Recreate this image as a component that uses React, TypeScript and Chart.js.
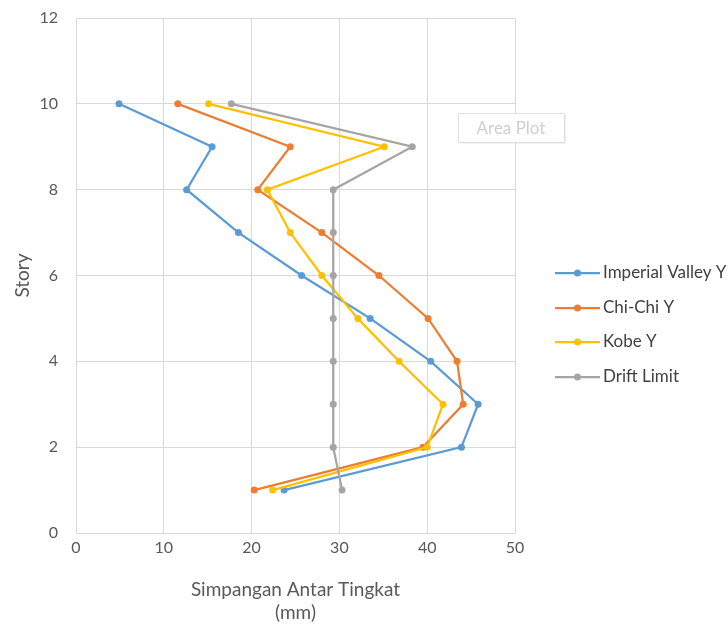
import React, { useEffect, useRef } from "react";
import { Chart, registerables } from "chart.js";

Chart.register(...registerables);

const stories = [10, 9, 8, 7, 6, 5, 4, 3, 2, 1];
const imperialValley = [4.9, 15.5, 12.6, 18.5, 25.7, 33.5, 40.4, 45.8, 43.9, 23.7];
const chiChi = [11.6, 24.4, 20.7, 28.0, 34.5, 40.1, 43.4, 44.1, 39.5, 20.3];
const kobe = [15.1, 35.1, 21.8, 24.4, 28.0, 32.1, 36.8, 41.8, 40.0, 22.4];
const driftLimit = [17.7, 38.3, 29.3, 29.3, 29.3, 29.3, 29.3, 29.3, 29.3, 30.3];

const seriesNames = ["Imperial Valley Y", "Chi-Chi Y", "Kobe Y", "Drift Limit"];
const seriesValues = [imperialValley, chiChi, kobe, driftLimit];
const seriesColors = ["#5B9BD5", "#ED7D31", "#FFC000", "#A5A5A5"];

const xTitle = ["Simpangan Antar Tingkat", "(mm)"];
const yTitle = "Story";
const tooltipText = "Area Plot";

const FONT = "Lato, 'Noto Sans', sans-serif";

export default function App() {
  const ref = useRef<HTMLCanvasElement | null>(null);

  useEffect(() => {
    if (!ref.current) return;

    const legendPlugin = {
      id: "customLegend",
      afterDraw(chart: any) {
        const ctx = chart.ctx;
        ctx.save();
        const x0 = 555;
        const rowY = [273, 308, 342, 377];
        seriesNames.forEach((name, i) => {
          const y = rowY[i];
          ctx.strokeStyle = seriesColors[i];
          ctx.lineWidth = 2.25;
          ctx.beginPath();
          ctx.moveTo(x0, y);
          ctx.lineTo(x0 + 45, y);
          ctx.stroke();
          ctx.fillStyle = seriesColors[i];
          ctx.beginPath();
          ctx.arc(x0 + 22.5, y, 3.5, 0, Math.PI * 2);
          ctx.fill();
          ctx.fillStyle = "#404040";
          ctx.font = "17px " + FONT;
          ctx.textAlign = "left";
          ctx.textBaseline = "middle";
          ctx.fillText(name, x0 + 48, y);
        });
        // faint "Area Plot" hover label
        const bx = 458, by = 113, bw = 106, bh = 29;
        ctx.fillStyle = "rgba(0,0,0,0.05)";
        ctx.fillRect(bx + 2, by + 2, bw, bh);
        ctx.fillStyle = "#ffffff";
        ctx.fillRect(bx, by, bw, bh);
        ctx.strokeStyle = "#E0E0E0";
        ctx.lineWidth = 1;
        ctx.strokeRect(bx + 0.5, by + 0.5, bw, bh);
        ctx.fillStyle = "#CFCFCF";
        ctx.font = "17px " + FONT;
        ctx.textAlign = "center";
        ctx.textBaseline = "middle";
        ctx.fillText(tooltipText, bx + bw / 2, by + bh / 2 + 1);
        ctx.restore();
      },
    };

    const chart = new Chart(ref.current, {
      type: "line",
      data: {
        datasets: seriesNames.map((name, i) => ({
          label: name,
          data: stories.map((s, j) => ({ x: seriesValues[i][j], y: s })),
          borderColor: seriesColors[i],
          backgroundColor: seriesColors[i],
          borderWidth: 2.25,
          pointRadius: 3.5,
          pointBorderWidth: 0,
          pointBackgroundColor: seriesColors[i],
          tension: 0,
          fill: false,
          order: 4 - i,
        })),
      },
      options: {
        responsive: false,
        animation: false,
        layout: { padding: { top: 18, right: 213, left: 0, bottom: 0 } },
        plugins: {
          legend: { display: false },
          tooltip: { enabled: false },
        },
        scales: {
          x: {
            type: "linear",
            min: 0,
            max: 50,
            ticks: {
              stepSize: 10,
              color: "#595959",
              font: { family: FONT, size: 16 },
              padding: 5,
            },
            grid: { color: "#D9D9D9", drawTicks: false, lineWidth: 1 },
            border: { color: "#D9D9D9" },
            title: {
              display: true,
              text: xTitle,
              color: "#595959",
              font: { family: FONT, size: 19, lineHeight: 1.2 },
              padding: { top: 0, bottom: 0 },
            },
            afterFit: (scale: any) => {
              scale.height = 91;
            },
          },
          y: {
            type: "linear",
            min: 0,
            max: 12,
            ticks: {
              stepSize: 2,
              color: "#595959",
              font: { family: FONT, size: 16 },
              padding: 18,
            },
            grid: { color: "#D9D9D9", drawTicks: false, lineWidth: 1 },
            border: { color: "#D9D9D9" },
            title: {
              display: true,
              text: yTitle,
              color: "#595959",
              font: { family: FONT, size: 19, lineHeight: 1.2 },
              padding: { top: 11, bottom: 0 },
            },
            afterFit: (scale: any) => {
              scale.width = 76;
              scale.paddingTop = 0;
              scale.paddingBottom = 0;
            },
          },
        },
      },
      plugins: [legendPlugin],
    } as any);

    return () => chart.destroy();
  }, []);

  return (
    <div style={{ position: "absolute", left: 0, top: 0, width: 728, height: 624, background: "#fff" }}>
      <canvas ref={ref} width={728} height={624} style={{ display: "block" }} />
    </div>
  );
}
